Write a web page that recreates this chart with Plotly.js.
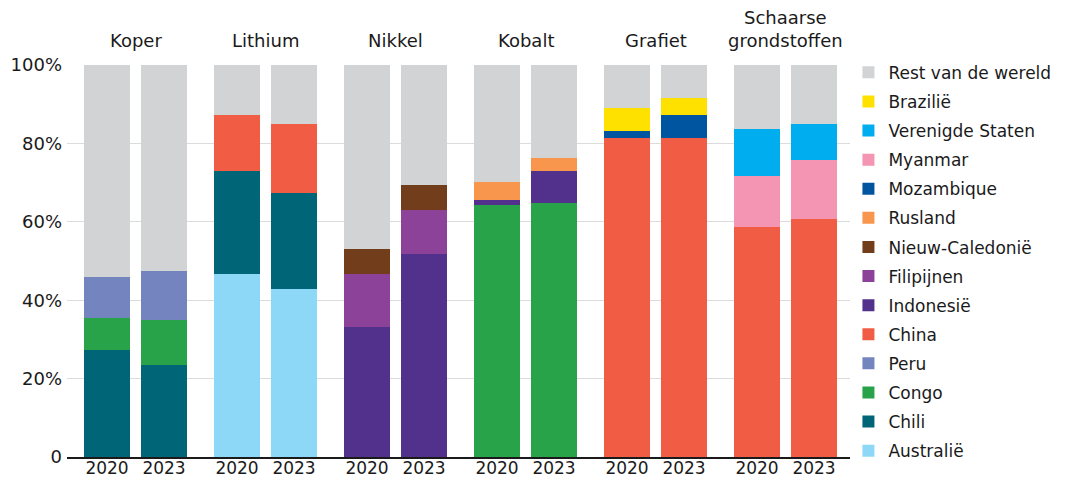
<!DOCTYPE html>
<html>
<head>
<meta charset="utf-8">
<script src="https://cdn.plot.ly/plotly-3.0.1.min.js"></script>
<style>html,body{margin:0;padding:0;background:#fff;}#chart{width:1071px;height:479px;}</style>
</head>
<body>
<div id="chart"></div>
<script>
// Groups (metals) and years
const groups = ["Koper", "Lithium", "Nikkel", "Kobalt", "Grafiet", "Schaarse<br>grondstoffen"];
const years = ["2020", "2023"];

// Series values in %, per bar: [Koper2020, Koper2023, Lithium2020, Lithium2023, Nikkel2020, Nikkel2023,
//                               Kobalt2020, Kobalt2023, Grafiet2020, Grafiet2023, Schaarse2020, Schaarse2023]
const australie   = [0, 0, 46.7, 42.9, 0, 0, 0, 0, 0, 0, 0, 0];
const chili       = [27.3, 23.5, 26.3, 24.4, 0, 0, 0, 0, 0, 0, 0, 0];
const congo       = [8.2, 11.5, 0, 0, 0, 0, 64.3, 64.8, 0, 0, 0, 0];
const peru        = [10.4, 12.5, 0, 0, 0, 0, 0, 0, 0, 0, 0, 0];
const china       = [0, 0, 14.2, 17.6, 0, 0, 0, 0, 81.5, 81.5, 58.7, 60.7];
const indonesie   = [0, 0, 0, 0, 33.2, 51.8, 1.3, 8.2, 0, 0, 0, 0];
const filipijnen  = [0, 0, 0, 0, 13.5, 11.2, 0, 0, 0, 0, 0, 0];
const nieuwCal    = [0, 0, 0, 0, 6.4, 6.4, 0, 0, 0, 0, 0, 0];
const rusland     = [0, 0, 0, 0, 0, 0, 4.6, 3.3, 0, 0, 0, 0];
const mozambique  = [0, 0, 0, 0, 0, 0, 0, 0, 1.7, 5.7, 0, 0];
const myanmar     = [0, 0, 0, 0, 0, 0, 0, 0, 0, 0, 13.1, 15.1];
const vs          = [0, 0, 0, 0, 0, 0, 0, 0, 0, 0, 11.9, 9.1];
const brazilie    = [0, 0, 0, 0, 0, 0, 0, 0, 5.9, 4.5, 0, 0];
const rest        = [54.1, 52.5, 12.8, 15.1, 46.9, 30.6, 29.8, 23.7, 10.9, 8.3, 16.3, 15.1];

// y-axis tick labels
const yTickVals = [0, 20, 40, 60, 80, 100];
const yTickText = ["0", "20%", "40%", "60%", "80%", "100%"];

// series, bottom to top of stack
const series = [
  {name: "Australië", values: australie, color: "#8dd7f7"},
  {name: "Chili", values: chili, color: "#006677"},
  {name: "Congo", values: congo, color: "#28a349"},
  {name: "Peru", values: peru, color: "#7484be"},
  {name: "China", values: china, color: "#f05c44"},
  {name: "Indonesië", values: indonesie, color: "#51318c"},
  {name: "Filipijnen", values: filipijnen, color: "#8c4298"},
  {name: "Nieuw-Caledonië", values: nieuwCal, color: "#713d1b"},
  {name: "Rusland", values: rusland, color: "#f7964c"},
  {name: "Mozambique", values: mozambique, color: "#0055a0"},
  {name: "Myanmar", values: myanmar, color: "#f395b3"},
  {name: "Verenigde Staten", values: vs, color: "#00aeef"},
  {name: "Brazilië", values: brazilie, color: "#ffe100"},
  {name: "Rest van de wereld", values: rest, color: "#d1d3d4"}
];

// layout geometry: group step and bar step along x (axis units)
const groupStep = 130, barStep = 57;
const xPos = [], xTickText = [];
groups.forEach((g, gi) => years.forEach((y, yi) => { xPos.push(gi * groupStep + yi * barStep); xTickText.push(y); }));

const FONT = "'DejaVu Sans', sans-serif";
const TXT = "#1a1a1a";

const traces = series.map((s, i) => ({
  type: "bar",
  name: s.name,
  legendgroup: "g" + i,
  legendrank: 1000 - i,
  x: xPos,
  y: s.values,
  width: 46,
  marker: {color: s.color, line: {width: 0}},
  hoverinfo: "name+y"
}));

const annotations = groups.map((g, gi) => ({
  text: g,
  x: gi * groupStep + barStep / 2,
  xref: "x",
  y: 1.03,
  yref: "paper",
  yanchor: "bottom",
  xanchor: "center",
  showarrow: false,
  font: {family: FONT, size: 18, color: TXT}
}));

const layout = {
  width: 1071,
  height: 479,
  margin: {l: 67, r: 221, t: 65, b: 22, pad: 0},
  paper_bgcolor: "#ffffff",
  plot_bgcolor: "#ffffff",
  barmode: "stack",
  font: {family: FONT, size: 17, color: TXT},
  showlegend: true,
  legend: {
    x: 0.998, xanchor: "left",
    y: 1.026, yanchor: "top",
    maxheight: 479,
    traceorder: "grouped",
    tracegroupgap: 4,
    font: {family: FONT, size: 17, color: TXT},
    bgcolor: "rgba(0,0,0,0)"
  },
  xaxis: {
    range: [-40, 743],
    tickvals: xPos,
    ticktext: xTickText,
    showgrid: false,
    zeroline: false,
    showline: true,
    linecolor: TXT,
    linewidth: 2,
    ticks: "",
    ticklabelstandoff: -5,
    tickfont: {family: FONT, size: 17, color: TXT},
    fixedrange: true
  },
  yaxis: {
    range: [0, 100],
    tickvals: yTickVals,
    ticktext: yTickText,
    showgrid: true,
    gridcolor: "#dcdcdc",
    gridwidth: 1,
    zeroline: false,
    showline: false,
    ticks: "",
    ticklabelstandoff: 4,
    tickfont: {family: FONT, size: 18, color: TXT},
    fixedrange: true
  },
  annotations: annotations
};

Plotly.newPlot("chart", traces, layout, {displayModeBar: false, staticPlot: true});
</script>
</body>
</html>
